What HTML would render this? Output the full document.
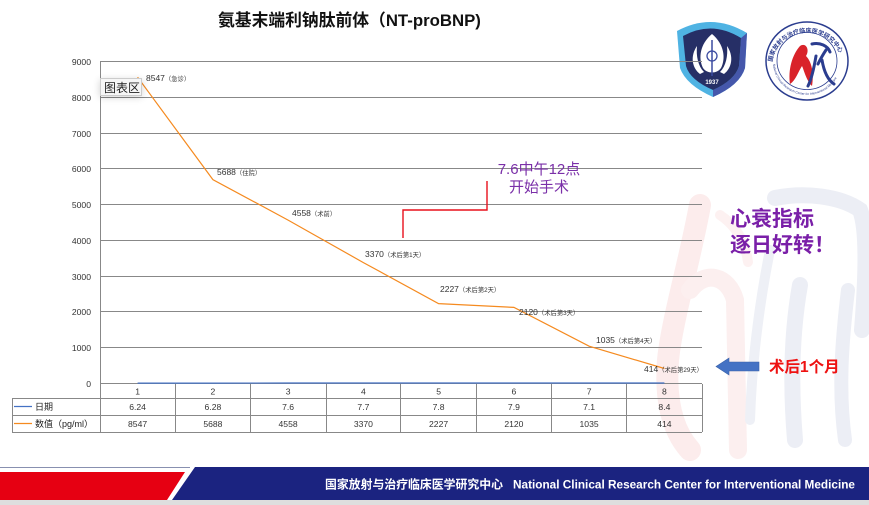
<!DOCTYPE html>
<html><head><meta charset="utf-8"><style>
html,body{margin:0;padding:0;background:#fff;}
svg{display:block;font-family:"Liberation Sans","Noto Sans CJK SC",sans-serif;}
</style></head><body>
<svg width="869" height="505" viewBox="0 0 869 505" xmlns="http://www.w3.org/2000/svg">
<rect width="869" height="505" fill="#fff"/>
<!-- watermark -->
<g fill="none" stroke-linecap="round">
<path d="M700,205 C690,260 672,320 668,360 C665,400 672,430 690,450" stroke="#fcecec" stroke-width="22"/>
<path d="M690,290 C705,270 728,275 735,300 L738,450" stroke="#fcefef" stroke-width="18"/>
<path d="M720,215 C735,225 745,240 748,262" stroke="#fdf1f1" stroke-width="10"/>
<path d="M775,198 C805,192 840,196 860,210 C868,230 866,280 862,330" stroke="#eceef5" stroke-width="16"/>
<path d="M800,285 C792,330 790,380 795,440" stroke="#eceef5" stroke-width="16"/>
<path d="M848,290 C842,340 838,390 845,440" stroke="#eceef5" stroke-width="14"/>
<path d="M770,250 C760,300 752,360 750,420" stroke="#eef0f6" stroke-width="10"/>
</g>
<!-- title -->
<text x="218" y="26" font-size="16.8" font-weight="bold" fill="#111">氨基末端利钠肽前体（NT-proBNP)</text>
<!-- shield logo -->
<path d="M677,31 Q712,12 747,33 L745,68 Q740,85 713,97 Q686,85 680,68 Z" fill="#4fb3e3"/>
<path d="M741,38 L747,33 L745,68 Q740,85 713,97 L713,90 Q735,80 739,66 Z" fill="#4557ab"/>
<path d="M683,36 Q712,20 741,38 L739,66 Q735,80 713,90 Q690,80 686,66 Z" fill="#262f66"/>
<path d="M712,34 C724,44 726,58 721,68 C717,74 707,74 703,68 C698,58 700,44 712,34 Z" fill="#fff"/>
<path d="M697,46 C690,56 692,68 700,74 L704,72 C698,66 696,56 697,46 Z" fill="#fff"/>
<path d="M727,46 C734,56 732,68 724,74 L720,72 C726,66 728,56 727,46 Z" fill="#fff"/>
<line x1="712" y1="40" x2="712" y2="76" stroke="#3a4aa0" stroke-width="1.5"/>
<circle cx="712" cy="56" r="5" fill="none" stroke="#3a4aa0" stroke-width="1.3"/>
<text x="712" y="84" font-size="6" fill="#fff" text-anchor="middle" font-weight="bold">1937</text>
<!-- circle logo -->
<ellipse cx="807" cy="61" rx="41" ry="39" fill="#fff" stroke="#2b3d8f" stroke-width="1.5"/>
<ellipse cx="807" cy="61" rx="30" ry="28.5" fill="none" stroke="#2b3d8f" stroke-width="0.8"/>
<defs>
<path id="arcTop" d="M772,66 A35,33.5 0 0 1 842,66"/>
<path id="arcBot" d="M773,62 A34,33 0 0 0 841,62"/>
</defs>
<text font-size="6" fill="#2b3d8f" font-weight="bold"><textPath href="#arcTop" startOffset="4">国家放射与治疗临床医学研究中心</textPath></text>
<text font-size="3.2" fill="#2b3d8f"><textPath href="#arcBot" startOffset="2">National Clinical Research Center for Interventional Medicine</textPath></text>
<path d="M790,84 C788,70 792,55 800,46 C806,42 810,50 806,56 C812,62 814,74 812,86 C806,80 804,70 802,66 C798,72 796,80 790,84 Z" fill="#d9232a"/>
<path d="M812,44 C820,42 828,46 830,52 M816,56 C814,68 812,78 808,86 M822,60 C824,72 828,80 834,84 M826,50 C822,56 820,60 818,64" fill="none" stroke="#2b3d8f" stroke-width="3" stroke-linecap="round"/>
<!-- gridlines -->
<g stroke="#888" stroke-width="1">
<line x1="100" y1="61.5" x2="702" y2="61.5"/>
<line x1="100" y1="97.5" x2="702" y2="97.5"/>
<line x1="100" y1="133.5" x2="702" y2="133.5"/>
<line x1="100" y1="168.5" x2="702" y2="168.5"/>
<line x1="100" y1="204.5" x2="702" y2="204.5"/>
<line x1="100" y1="240.5" x2="702" y2="240.5"/>
<line x1="100" y1="276.5" x2="702" y2="276.5"/>
<line x1="100" y1="311.5" x2="702" y2="311.5"/>
<line x1="100" y1="347.5" x2="702" y2="347.5"/>
<line x1="100" y1="383.5" x2="702" y2="383.5"/>
<line x1="100.5" y1="61" x2="100.5" y2="432"/>
</g>
<!-- y tick labels -->
<g font-size="8.6" fill="#333" text-anchor="end">
<text x="91" y="65">9000</text>
<text x="91" y="101">8000</text>
<text x="91" y="137">7000</text>
<text x="91" y="172">6000</text>
<text x="91" y="208">5000</text>
<text x="91" y="244">4000</text>
<text x="91" y="280">3000</text>
<text x="91" y="315">2000</text>
<text x="91" y="351">1000</text>
<text x="91" y="387">0</text>
</g>
<!-- table -->
<g stroke="#888" stroke-width="1">
<line x1="12" y1="398.5" x2="702" y2="398.5"/>
<line x1="12" y1="415.5" x2="702" y2="415.5"/>
<line x1="12" y1="432.5" x2="702" y2="432.5"/>
<line x1="12.5" y1="398" x2="12.5" y2="432"/>
<line x1="175.5" y1="384" x2="175.5" y2="432"/>
<line x1="250.5" y1="384" x2="250.5" y2="432"/>
<line x1="326.5" y1="384" x2="326.5" y2="432"/>
<line x1="400.5" y1="384" x2="400.5" y2="432"/>
<line x1="476.5" y1="384" x2="476.5" y2="432"/>
<line x1="551.5" y1="384" x2="551.5" y2="432"/>
<line x1="626.5" y1="384" x2="626.5" y2="432"/>
<line x1="702.5" y1="384" x2="702.5" y2="432"/>
</g>
<line x1="14" y1="406.5" x2="32" y2="406.5" stroke="#4472c4" stroke-width="1.2"/>
<line x1="14" y1="423.5" x2="32" y2="423.5" stroke="#f58a1f" stroke-width="1.2"/>
<g font-size="9" fill="#222">
<text x="35" y="410">日期</text>
<text x="35" y="427">数值（pg/ml）</text>
</g>
<g font-size="8.6" fill="#333" text-anchor="middle">
<text x="137.6" y="394.5">1</text><text x="212.9" y="394.5">2</text><text x="288.1" y="394.5">3</text><text x="363.4" y="394.5">4</text><text x="438.6" y="394.5">5</text><text x="513.9" y="394.5">6</text><text x="589.1" y="394.5">7</text><text x="664.4" y="394.5">8</text>
<text x="137.6" y="410">6.24</text><text x="212.9" y="410">6.28</text><text x="288.1" y="410">7.6</text><text x="363.4" y="410">7.7</text><text x="438.6" y="410">7.8</text><text x="513.9" y="410">7.9</text><text x="589.1" y="410">7.1</text><text x="664.4" y="410">8.4</text>
<text x="137.6" y="427">8547</text><text x="212.9" y="427">5688</text><text x="288.1" y="427">4558</text><text x="363.4" y="427">3370</text><text x="438.6" y="427">2227</text><text x="513.9" y="427">2120</text><text x="589.1" y="427">1035</text><text x="664.4" y="427">414</text>
</g>
<!-- series -->
<polyline points="137.6,383.1 212.9,383.1 288.1,383 363.4,383 438.6,383 513.9,383 589.1,383 664.4,383" fill="none" stroke="#4472c4" stroke-width="1.2"/>
<polyline points="137.6,77.2 212.9,179.6 288.1,220.1 363.4,262.6 438.6,303.6 513.9,307.4 589.1,346.2 664.4,368.5" fill="none" stroke="#f58a1f" stroke-width="1.2"/>
<!-- data labels -->
<g font-size="8.5" fill="#333">
<text x="146" y="81">8547<tspan font-size="6.3">（急诊）</tspan></text>
<text x="217" y="175">5688<tspan font-size="6.3">（住院）</tspan></text>
<text x="292" y="216">4558<tspan font-size="6.3">（术前）</tspan></text>
<text x="365" y="257">3370<tspan font-size="6.3">（术后第1天）</tspan></text>
<text x="440" y="292">2227<tspan font-size="6.3">（术后第2天）</tspan></text>
<text x="519" y="315">2120<tspan font-size="6.3">（术后第3天）</tspan></text>
<text x="596" y="343">1035<tspan font-size="6.3">（术后第4天）</tspan></text>
<text x="644" y="372">414<tspan font-size="6.3">（术后第29天）</tspan></text>
</g>
<!-- tooltip -->
<defs><filter id="sh" x="-50%" y="-50%" width="200%" height="200%"><feGaussianBlur stdDeviation="4"/></filter></defs>
<rect x="100" y="80" width="42" height="17" fill="#000" opacity="0.18" filter="url(#sh)"/>
<rect x="100.5" y="78.5" width="41" height="17" fill="#f6f6f6" stroke="#ccc" stroke-width="1"/>
<text x="104" y="92" font-size="12" fill="#222">图表区</text>
<!-- red bracket -->
<polyline points="403,238 403,210 487,210 487,181" fill="none" stroke="#e8101c" stroke-width="1.4"/>
<g fill="#7a2fa8" font-size="15" text-anchor="middle">
<text x="539" y="174">7.6中午12点</text>
<text x="539" y="192">开始手术</text>
</g>
<g fill="#7a1fa8" font-size="21" font-weight="bold">
<text x="730" y="226">心衰指标</text>
<text x="730" y="252">逐日好转！</text>
</g>
<!-- arrow -->
<path d="M716,366.5 L729,358 L729,362 L759,362 L759,371 L729,371 L729,375 Z" fill="#4472c4" stroke="#3a62a8" stroke-width="0.6"/>
<text x="769" y="372" font-size="15.5" font-weight="bold" fill="#ee1111">术后1个月</text>
<!-- footer -->
<line x1="0" y1="467.5" x2="190" y2="467.5" stroke="#8890b0" stroke-width="1"/>
<polygon points="0,472 185,472 167,500 0,500" fill="#e60012"/>
<polygon points="195,467 869,467 869,500 172,500" fill="#1b2380"/>
<rect x="0" y="500" width="869" height="5" fill="#dedede"/>
<text x="325" y="488.5" font-size="11.8" font-weight="bold" fill="#fff" textLength="178" lengthAdjust="spacingAndGlyphs">国家放射与治疗临床医学研究中心</text>
<text x="513" y="488.5" font-size="12" font-weight="bold" fill="#fff" textLength="342" lengthAdjust="spacingAndGlyphs">National Clinical Research Center for Interventional Medicine</text>
</svg>
</body></html>
